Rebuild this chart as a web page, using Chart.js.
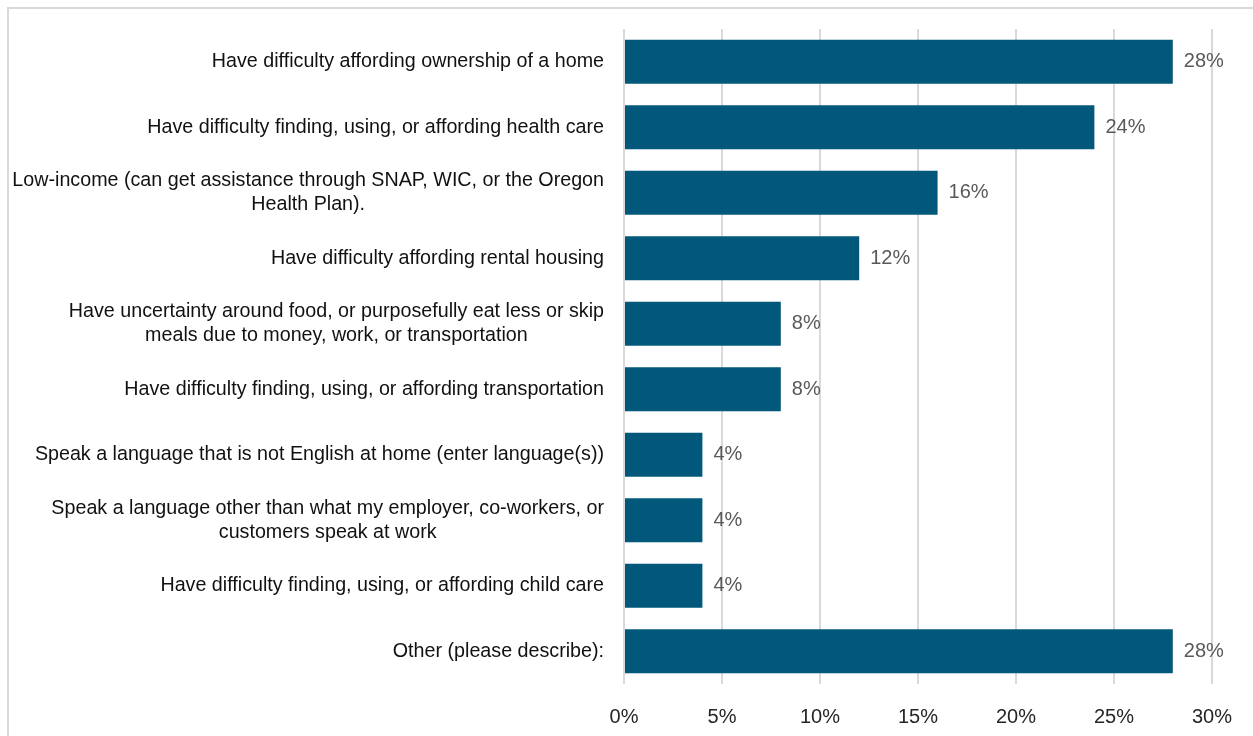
<!DOCTYPE html>
<html>
<head>
<meta charset="utf-8">
<title>Barriers chart</title>
<script src="https://cdn.jsdelivr.net/npm/chart.js@4.4.1/dist/chart.umd.min.js"></script>
<style>
    html, body { margin: 0; padding: 0; background: #fff; overflow: hidden; }
    #frame {
        position: absolute; left: 7px; top: 7px;
        width: 1300px; height: 800px;
        border-top: 2px solid #d9d9d9; border-left: 2px solid #d9d9d9;
    }
    #wrap { position: absolute; left: 0; top: 0; width: 1253px; height: 736px; }
</style>
</head>
<body>
<div id="frame"></div>
<div id="wrap"><canvas id="barChart" width="1253" height="736"></canvas></div>
<script>
// ===== Data =====
const categories = [
    'Have difficulty affording ownership of a home',
    'Have difficulty finding, using, or affording health care',
    ['Low-income (can get assistance through SNAP, WIC, or the Oregon', 'Health Plan).'],
    'Have difficulty affording rental housing',
    ['Have uncertainty around food, or purposefully eat less or skip', 'meals due to money, work, or transportation'],
    'Have difficulty finding, using, or affording transportation',
    'Speak a language that is not English at home (enter language(s))',
    ['Speak a language other than what my employer, co-workers, or', 'customers speak at work'],
    'Have difficulty finding, using, or affording child care',
    'Other (please describe):'
];
const percents = [28, 24, 16, 12, 8, 8, 4, 4, 4, 28];
const xTicks = [0, 5, 10, 15, 20, 25, 30];

const FONT = '"Liberation Sans", Arial, sans-serif';

// category labels (right aligned block, lines centred) + value labels
const labelPlugin = {
    id: 'labelPlugin',
    afterDatasetsDraw(chart) {
        const ctx = chart.ctx;
        const yScale = chart.scales.y;
        ctx.save();
        ctx.font = '19.7px ' + FONT;
        ctx.fillStyle = '#111';
        ctx.textBaseline = 'middle';
        ctx.textAlign = 'center';
        const right = chart.chartArea.left - 20;
        categories.forEach((lab, i) => {
            const lines = Array.isArray(lab) ? lab : [lab];
            const y = yScale.getPixelForTick(i);
            const maxW = Math.max(...lines.map(l => ctx.measureText(l).width));
            const cx = right - maxW / 2;
            lines.forEach((l, j) => {
                ctx.fillText(l, cx, y + (j - (lines.length - 1) / 2) * 24);
            });
        });

        // value labels
        ctx.font = '20px ' + FONT;
        ctx.fillStyle = '#595959';
        ctx.textAlign = 'left';
        const meta = chart.getDatasetMeta(0);
        meta.data.forEach((bar, i) => {
            ctx.fillText(percents[i] + '%', bar.x + 11, bar.y);
        });
        ctx.restore();
    }
};

const ctx1 = document.getElementById('barChart').getContext('2d');
const barChart = new Chart(ctx1, {
    type: 'bar',
    data: {
        labels: categories,
        datasets: [{
            data: percents,
            backgroundColor: '#02587A',
            borderWidth: 0,
            categoryPercentage: 1,
            barPercentage: 0.67
        }]
    },
    options: {
        indexAxis: 'y',
        responsive: false,
        animation: false,
        layout: { padding: { top: 29, right: 40, bottom: 0, left: 0 } },
        plugins: { legend: { display: false }, tooltip: { enabled: false } },
        scales: {
            x: {
                min: 0,
                max: 30,
                afterBuildTicks: (scale) => { scale.ticks = xTicks.map(v => ({ value: v })); },
                afterFit: (scale) => { scale.height = 52; },
                ticks: {
                    callback: (v) => v + '%',
                    color: '#262626',
                    font: { family: FONT, size: 20 },
                    padding: 21,
                    maxRotation: 0
                },
                grid: { color: '#d9d9d9', lineWidth: 2, drawTicks: false },
                border: { display: false }
            },
            y: {
                afterFit: (scale) => { scale.width = 624; },
                ticks: { display: false },
                grid: { display: false },
                border: { display: false }
            }
        }
    },
    plugins: [labelPlugin]
});
</script>
</body>
</html>
